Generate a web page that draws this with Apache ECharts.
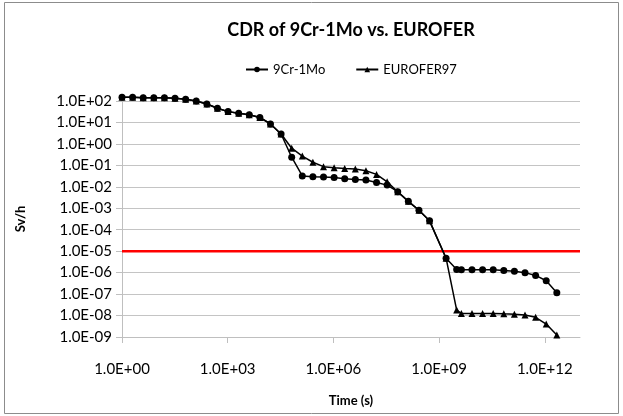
<!DOCTYPE html>
<html>
<head>
<meta charset="utf-8">
<script src="https://cdn.jsdelivr.net/npm/echarts@6/dist/echarts.min.js"></script>
<style>
  html, body { margin: 0; padding: 0; background: #fff; }
  #chart { width: 623px; height: 416px; }
</style>
</head>
<body>
<div id="chart"></div>
<script>
  // time points (s): doubling steps, plus 50 y and 100 y
  var times = [1, 2, 4, 8, 16, 32, 64, 128, 256, 512, 1024, 2048, 4096, 8192, 16384,
    32768, 65536, 131072, 262144, 524288, 1048576, 2097152, 4194304, 8388608,
    16777216, 33554432, 67108864, 134217728, 268435456, 536870912,
    1.58e9, 3.16e9, 4294967296, 8589934592, 17179869184, 34359738368,
    68719476736, 137438953472, 274877906944, 549755813888, 1099511627776, 2199023255552];

  var cr9Mo = [1.48e2, 1.48e2, 1.41e2, 1.41e2, 1.41e2, 1.35e2, 1.2e2, 1.0e2, 7.2e1, 4.6e1,
    3.2e1, 2.7e1, 2.3e1, 1.7e1, 8.5, 2.9, 2.4e-1, 3.2e-2, 2.95e-2, 2.9e-2,
    2.75e-2, 2.4e-2, 2.2e-2, 2.1e-2, 1.6e-2, 1.2e-2, 5.9e-3, 2.1e-3, 8.1e-4, 2.6e-4,
    4.7e-6, 1.4e-6, 1.35e-6, 1.35e-6, 1.35e-6, 1.35e-6, 1.26e-6, 1.15e-6, 1.0e-6, 7.4e-7,
    4.2e-7, 1.15e-7];

  var eurofer97 = [1.48e2, 1.48e2, 1.41e2, 1.41e2, 1.41e2, 1.35e2, 1.2e2, 1.0e2, 7.2e1, 4.6e1,
    3.2e1, 2.7e1, 2.3e1, 1.7e1, 8.5, 2.9, 6.3e-1, 2.7e-1, 1.4e-1, 8.7e-2,
    7.8e-2, 7.2e-2, 6.8e-2, 5.6e-2, 3.8e-2, 1.7e-2, 5.9e-3, 2.1e-3, 8.1e-4, 2.6e-4,
    4.7e-6, 1.8e-8, 1.26e-8, 1.26e-8, 1.26e-8, 1.26e-8, 1.2e-8, 1.15e-8, 1.05e-8, 8.3e-9,
    4.0e-9, 1.23e-9];

  // red limit line (Sv/h) across the whole time range
  var limitTimes = [1, 1e13];
  var limitValue = [1e-5, 1e-5];

  function sciLabel(v) {
    var e = Math.round(Math.log(v) / Math.LN10);
    var a = Math.abs(e);
    return '1.0E' + (e < 0 ? '-' : '+') + (a < 10 ? '0' + a : a);
  }

  function pairs(xs, ys) {
    var out = [];
    for (var i = 0; i < xs.length; i++) {
      out.push([xs[i], ys[i]]);
    }
    return out;
  }

  var chart = echarts.init(document.getElementById('chart'));
  var font = 'Lato';

  chart.setOption({
    backgroundColor: '#fff',
    animation: false,
    textStyle: { fontFamily: font },
    title: {
      text: 'CDR of 9Cr-1Mo vs. EUROFER',
      left: 351,
      top: 21,
      padding: 0,
      textAlign: 'center',
      textStyle: { fontFamily: font, fontSize: 18, fontWeight: 'bold', color: '#000' }
    },
    legend: {
      top: 58,
      left: 240,
      itemGap: 30,
      itemWidth: 22,
      itemHeight: 7,
      textStyle: { fontFamily: font, fontSize: 13, color: '#000' },
      data: ['9Cr-1Mo', 'EUROFER97']
    },
    grid: {
      left: 122,
      right: 43,
      top: 101,
      bottom: 79
    },
    xAxis: {
      type: 'log',
      logBase: 10,
      min: 1,
      max: 1e13,
      interval: 3,
      name: 'Time (s)',
      nameLocation: 'middle',
      nameGap: 57,
      nameTextStyle: { fontFamily: font, fontSize: 13, fontWeight: 'bold', color: '#000' },
      axisLine: { lineStyle: { color: '#bfbfbf', width: 1 } },
      axisTick: { show: true, length: 6, lineStyle: { color: '#bfbfbf' } },
      axisLabel: {
        fontFamily: font, fontSize: 15, color: '#000', margin: 25,
        showMaxLabel: false,
        formatter: function (v) { return sciLabel(v); }
      },
      splitLine: { show: false }
    },
    yAxis: {
      type: 'log',
      logBase: 10,
      min: 1e-9,
      max: 1e2,
      interval: 1,
      name: 'Sv/h',
      nameLocation: 'middle',
      nameGap: 95,
      nameRotate: 90,
      nameTextStyle: { fontFamily: font, fontSize: 13, fontWeight: 'bold', color: '#000' },
      axisLine: { show: true, lineStyle: { color: '#bfbfbf', width: 1 } },
      axisTick: { show: true, length: 6, lineStyle: { color: '#bfbfbf' } },
      axisLabel: {
        fontFamily: font, fontSize: 15, color: '#000', margin: 10,
        formatter: function (v) { return sciLabel(v); }
      },
      splitLine: { show: true, lineStyle: { color: '#c4c4c4', width: 1 } }
    },
    graphic: [{
      type: 'rect',
      shape: { x: 4.5, y: 2.5, width: 614, height: 411 },
      style: { fill: null, stroke: '#8c8c8c', lineWidth: 1 },
      silent: true,
      z: -1
    }],
    series: [{
      name: 'limit',
      type: 'line',
      data: pairs(limitTimes, limitValue),
      symbol: 'none',
      silent: true,
      lineStyle: { color: '#ff0000', width: 2.5 },
      z: 2
    }, {
      name: '9Cr-1Mo',
      type: 'line',
      data: pairs(times, cr9Mo),
      clip: false,
      symbol: 'circle',
      symbolSize: 7,
      itemStyle: { color: '#000' },
      lineStyle: { color: '#000', width: 1.5 },
      z: 3
    }, {
      name: 'EUROFER97',
      type: 'line',
      data: pairs(times, eurofer97),
      clip: false,
      symbol: 'triangle',
      symbolSize: 7,
      itemStyle: { color: '#000' },
      lineStyle: { color: '#000', width: 1.5 },
      z: 4
    }]
  });
</script>
</body>
</html>
